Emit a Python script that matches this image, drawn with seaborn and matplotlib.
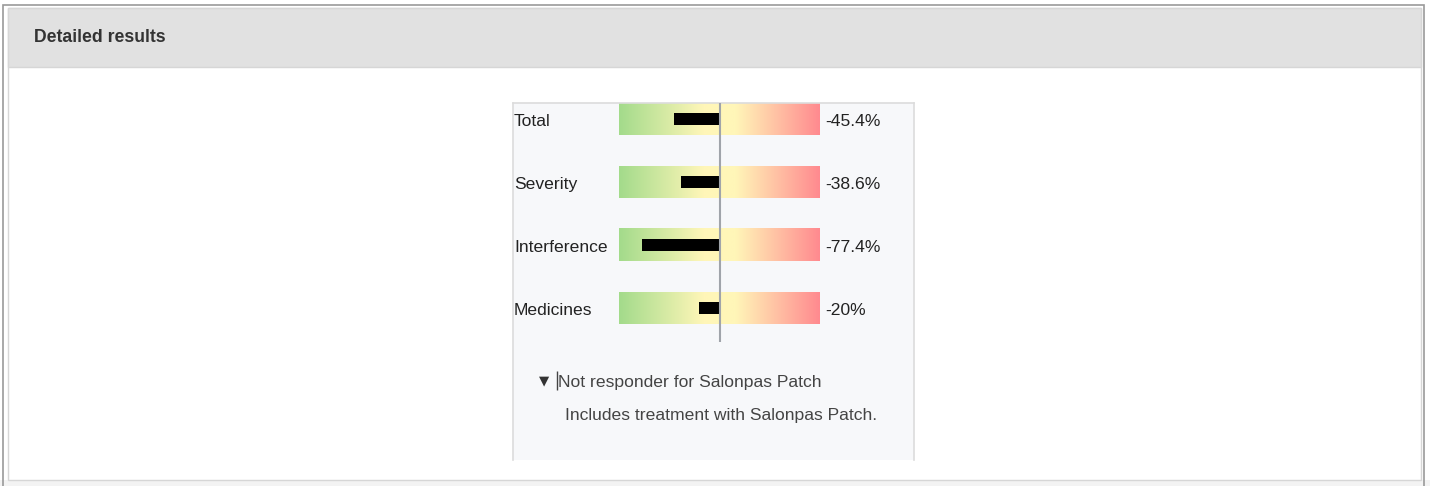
import numpy as np
import matplotlib
matplotlib.use("Agg")
import matplotlib.pyplot as plt
from matplotlib.patches import Rectangle
from matplotlib.colors import LinearSegmentedColormap
import seaborn as sns

# data
categories = ["Total", "Severity", "Interference", "Medicines"]
changes = [-45.4, -38.6, -77.4, -20.0]
value_labels = ["-45.4%", "-38.6%", "-77.4%", "-20%"]
footnote_title = "Not responder for Salonpas Patch"
footnote_text = "Includes treatment with Salonpas Patch."

sns.set_theme(style="white")
plt.rcParams["font.family"] = ["Liberation Sans", "DejaVu Sans"]

W, H = 1430, 486
fig = plt.figure(figsize=(W / 100, H / 100), dpi=100)
fig.patch.set_facecolor("white")


def frect(x0, y0, x1, y1, **kw):
    # rectangle in pixel coords (origin top-left), drawn behind the axes
    r = Rectangle((x0 / W, 1 - y1 / H), (x1 - x0) / W, (y1 - y0) / H,
                  transform=fig.transFigure, zorder=-5, **kw)
    fig.add_artist(r)


# page frame
frect(0, 480, W, H, facecolor="#f3f3f3", edgecolor="none")
frect(3, 5, 1424, 490, facecolor="none", edgecolor="#9a9a9a", lw=1.2)
frect(8, 8, 1421, 480, facecolor="white", edgecolor="#d6d6d6", lw=1)
frect(8, 8, 1421, 67, facecolor="#e1e1e1", edgecolor="#d6d6d6", lw=1)
fig.text(34 / W, 1 - 38 / H, "Detailed results", fontsize=12.7,
         fontweight="bold", color="#333333", va="center", ha="left")

# panel axes: x 513..914 px, y 103..460 px
px = 200 / 201
ax = fig.add_axes([513 / W, 1 - 460 / H, 401 / W, 357 / H])
ax.set_facecolor("#f7f8fa")

cmap = LinearSegmentedColormap.from_list(
    "resp", [(0, "#a3db8b"), (0.42, "#fff6b8"), (0.58, "#fff6b8"), (1, "#ff8a8f")])
grad = np.linspace(0, 1, 256).reshape(1, -1)
half = 16 / 63
for i in range(len(categories)):
    ax.imshow(grad, cmap=cmap, aspect="auto", extent=(-100, 100, i + half, i - half),
              zorder=1)

sns.barplot(x=changes, y=categories, orient="h", color="black", width=12 / 63,
            saturation=1, edgecolor="black", linewidth=0, ax=ax, zorder=3)

ax.vlines(0, -half, 3 + 34 / 63, color="#a0a4aa", lw=1.5, zorder=4)

x_left = -100 - 106 * px
x_right = 100 + 94 * px
ax.set_xlim(x_left, x_right)
ax.set_ylim(3 + 152 / 63, -half)

for i, (cat, lab) in enumerate(zip(categories, value_labels)):
    ax.text(x_left + 1, i + 2.5 / 63, cat, fontsize=12.6, color="#222222",
            va="center", ha="left")
    ax.text(100 + 5.5, i + 2.5 / 63, lab, fontsize=12.6, color="#222222",
            va="center", ha="left")

ax.text(x_left + 26 * px, 3 + 73 / 63, "\u25bc", fontsize=9.5, color="#333333",
        va="center", ha="left", family=["DejaVu Sans"])
# text cursor in front of the footnote title
ax.vlines(x_left + 44 * px, 3 + 63 / 63, 3 + 82 / 63, color="#444444", lw=1)
ax.text(x_left + 45 * px, 3 + 74 / 63, footnote_title, fontsize=12.6,
        color="#444444", va="center", ha="left")
ax.text(x_left + 52 * px, 3 + 107 / 63, footnote_text, fontsize=12.6,
        color="#444444", va="center", ha="left")

ax.set_xticks([])
ax.set_yticks([])
ax.set_xlabel("")
ax.set_ylabel("")
for side in ["left", "right", "top"]:
    ax.spines[side].set_visible(True)
    ax.spines[side].set_color("#dcdcdc")
    ax.spines[side].set_linewidth(1.2)
ax.spines["bottom"].set_visible(False)

fig.savefig("out.png", dpi=100)
